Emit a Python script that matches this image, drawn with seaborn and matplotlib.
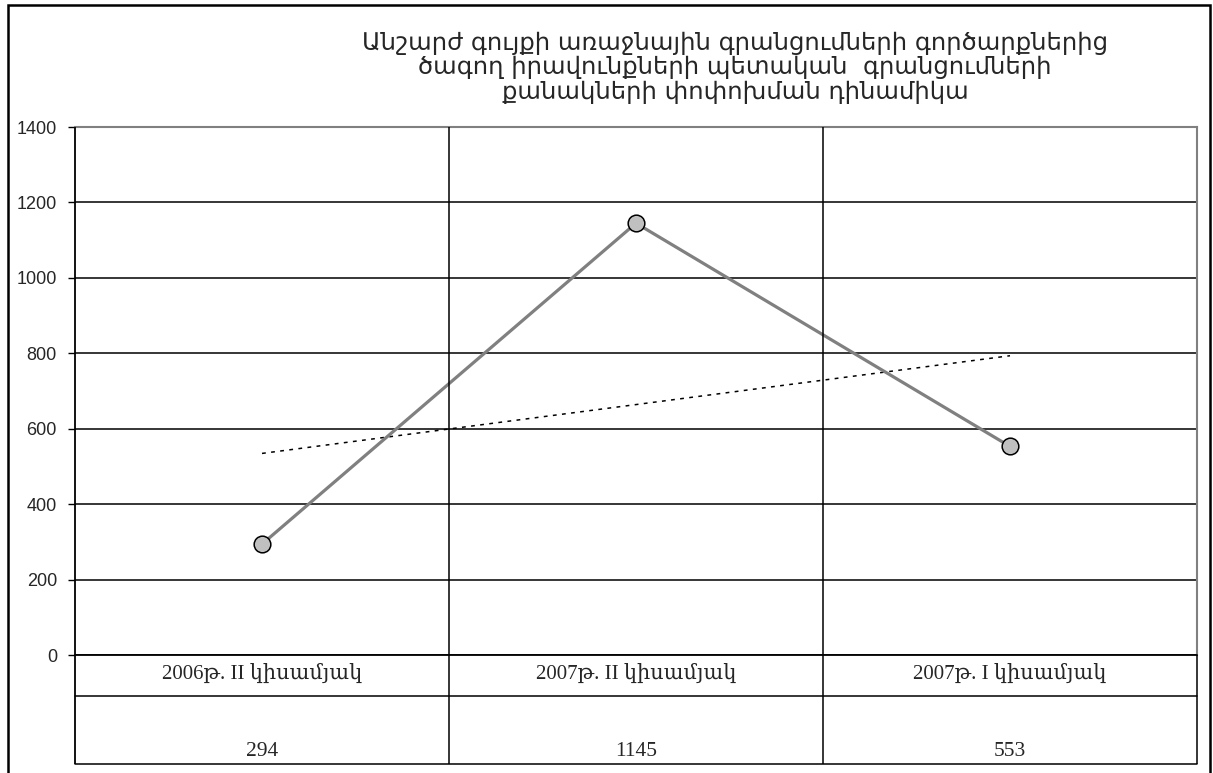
import numpy as np
import pandas as pd
import matplotlib
matplotlib.use("Agg")
import matplotlib.pyplot as plt
import matplotlib.transforms as mtransforms
from matplotlib.patches import Rectangle
import seaborn as sns

# Data
periods = ["2006թ. II կիսամյակ", "2007թ. II կիսամյակ", "2007թ. I կիսամյակ"]
counts = [294, 1145, 553]
y_ticks = [0, 200, 400, 600, 800, 1000, 1200, 1400]
title_lines = [
    "Անշարժ գույքի առաջնային գրանցումների գործարքներից",
    "ծագող իրավունքների պետական  գրանցումների",
    "քանակների փոփոխման դինամիկա",
]

df = pd.DataFrame({"pos": np.arange(len(periods)), "count": counts, "period": periods})

sns.set_style("white")
plt.rcParams["font.family"] = ["DejaVu Sans"]

W, H = 1213, 773
fig = plt.figure(figsize=(W / 100, H / 100), dpi=100)

# plot area in pixel coordinates
px_left, px_right, px_top, px_bottom = 75, 1197, 127, 655
ax = fig.add_axes([px_left / W, 1 - px_bottom / H,
                   (px_right - px_left) / W, (px_bottom - px_top) / H])

ax.set_xlim(-0.5, len(periods) - 0.5)
ax.set_ylim(0, 1400)

# horizontal gridlines
for t in y_ticks[:-1]:
    ax.axhline(t, color="black", lw=1.1, zorder=1)

# linear trend (dotted)
sns.regplot(data=df, x="pos", y="count", ax=ax, scatter=False, ci=None,
            truncate=True,
            line_kws=dict(color="black", lw=1.1, linestyle=(0, (2.5, 3.5)), zorder=2))

# main series
sns.lineplot(data=df, x="pos", y="count", ax=ax, color="#808080", lw=2.3,
             marker="o", markersize=12, markerfacecolor="#c0c0c0",
             markeredgecolor="black", markeredgewidth=1.1, zorder=3)

ax.set_xlabel("")
ax.set_ylabel("")
ax.set_xticks([])
ax.set_yticks(y_ticks)
ax.set_yticklabels([str(t) for t in y_ticks], family="Liberation Sans", fontsize=13)
ax.tick_params(axis="y", which="major", direction="out", length=5, width=1,
               color="black", pad=8, left=True)

for side in ("top", "right"):
    ax.spines[side].set_color("#808080")
    ax.spines[side].set_linewidth(1.5)
ax.spines["bottom"].set_visible(False)
ax.spines["left"].set_visible(False)

# data table beneath the plot
bt = mtransforms.blended_transform_factory(ax.transData, ax.transAxes)
plot_h = px_bottom - px_top
row1 = (px_bottom - 696) / plot_h
row2 = (px_bottom - 764) / plot_h
lab_y = (px_bottom - 674) / plot_h
val_y = (px_bottom - 751) / plot_h

x_edges = np.arange(len(periods) + 1) - 0.5
for i, xe in enumerate(x_edges):
    top = 1.0 if i < len(x_edges) - 1 else 0.0
    ax.plot([xe, xe], [row2, top], transform=bt, color="black",
            lw=1.3 if i == 0 else 1.1, clip_on=False, zorder=4,
            solid_capstyle="butt")
for yy in (0.0, row1, row2):
    ax.plot([x_edges[0], x_edges[-1]], [yy, yy], transform=bt, color="black",
            lw=1.3 if yy == 0.0 else 1.1, clip_on=False, zorder=4)

serif = ["Liberation Serif", "DejaVu Serif"]
for xpos, lab, val in zip(df["pos"], df["period"], df["count"]):
    ax.text(xpos, lab_y, lab, transform=bt, ha="center", va="center",
            family=serif, fontsize=15)
    ax.text(xpos, val_y, str(val), transform=bt, ha="center", va="center",
            family=serif, fontsize=15.5)

# title, one line at a time
for line, yc in zip(title_lines, (43, 67, 92)):
    fig.text(735 / W, 1 - yc / H, line, ha="center", va="center",
             fontsize=17.5, family="DejaVu Sans")

# outer frame
fig.patches.append(Rectangle((8 / W, -0.01), (1210 - 8) / W, 1.01 - 5 / H,
                             transform=fig.transFigure, fill=False,
                             edgecolor="black", lw=1.8))

fig.savefig("out.png", dpi=100, facecolor="white")
